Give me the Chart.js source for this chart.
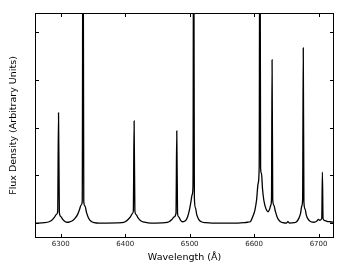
<!DOCTYPE html>
<html>
<head>
<meta charset="utf-8">
<script src="https://cdn.jsdelivr.net/npm/chart.js@4"></script>
<style>
  body { margin: 0; background: #fff; }
  canvas { display: block; }
</style>
</head>
<body>
<canvas id="specChart" width="352" height="264"></canvas>
<script>
// spectrum (wavelength in Å, flux in arbitrary units)
const wavelength = [
  6260, 6275, 6282, 6286, 6290, 6293, 6295.2, 6296.5, 6297.8, 6300, 6303, 6307, 6310,
  6314, 6318, 6322, 6326, 6329, 6331.5, 6333.3, 6334.5, 6335.7, 6337.5, 6340, 6343, 6347, 6352, 6360,
  6395, 6400, 6404, 6408, 6411, 6412.6, 6413.8, 6415, 6417, 6420, 6424, 6430, 6440,
  6462, 6468, 6472, 6476, 6478.8, 6480, 6481.2, 6483, 6486, 6489, 6492, 6494, 6497, 6500,
  6502, 6504, 6505.2, 6506.2, 6507.3, 6509, 6511, 6514, 6518, 6525, 6535,
  6575, 6585, 6590, 6594, 6598.6, 6601.2, 6603.8, 6606.3, 6607.9, 6609, 6610.1, 6611.5, 6613,
  6615.1, 6618.2, 6621.7, 6624, 6626, 6627, 6627.9, 6628.9, 6630.5, 6633, 6636, 6640, 6645,
  6650, 6652.5, 6655, 6662,
  6666, 6669, 6672, 6674, 6675.3, 6676.3, 6677.3, 6679, 6681, 6684, 6688, 6693, 6697, 6700,
  6702, 6705, 6706, 6707, 6709, 6713, 6718, 6724
];
const flux = [
  0.00, 0.01, 0.03, 0.06, 0.12, 0.18, 0.24, 2.31, 0.22, 0.14, 0.08, 0.03, 0.02,
  0.03, 0.05, 0.10, 0.18, 0.28, 0.38, 0.45, 8.00, 0.45, 0.36, 0.22, 0.11, 0.04, 0.01, 0.00,
  0.01, 0.03, 0.07, 0.13, 0.20, 0.26, 2.14, 0.25, 0.18, 0.11, 0.05, 0.02, 0.00,
  0.01, 0.03, 0.07, 0.13, 0.21, 1.93, 0.20, 0.13, 0.06, 0.03, 0.04, 0.06, 0.14, 0.30,
  0.45, 0.60, 0.80, 8.00, 0.55, 0.32, 0.18, 0.08, 0.03, 0.01, 0.00,
  0.00, 0.01, 0.02, 0.03, 0.16, 0.27, 0.48, 0.83, 1.18, 8.00, 1.15, 1.04, 0.73,
  0.48, 0.31, 0.24, 0.29, 0.38, 0.50, 3.42, 0.50, 0.38, 0.25, 0.12, 0.04, 0.01,
  0.00, 0.03, 0.00, 0.01,
  0.03, 0.09, 0.20, 0.36, 0.50, 3.67, 0.45, 0.30, 0.17, 0.08, 0.03, 0.02, 0.04, 0.08,
  0.06, 0.10, 1.07, 0.10, 0.06, 0.04, 0.03, 0.02
];
const xTicks = [6300, 6400, 6500, 6600, 6700];
const yTicks = [0, 1, 2, 3, 4];
const xLabel = 'Wavelength (Å)';
const yLabel = 'Flux Density (Arbitrary Units)';

const font = 'DejaVu Sans';

// frame and inward ticks on all four sides, like the old matplotlib look
const frame = {
  id: 'frame',
  afterDatasetsDraw(chart) {
    const {ctx, chartArea: a, scales} = chart;
    const len = 4;
    ctx.save();
    ctx.strokeStyle = '#000';
    ctx.lineWidth = 1;
    ctx.strokeRect(a.left + 0.5, a.top + 0.5, a.right - a.left - 1, a.bottom - a.top - 1);
    ctx.beginPath();
    xTicks.forEach(v => {
      const px = Math.round(scales.x.getPixelForValue(v)) + 0.5;
      ctx.moveTo(px, a.bottom); ctx.lineTo(px, a.bottom - len);
      ctx.moveTo(px, a.top); ctx.lineTo(px, a.top + len);
    });
    yTicks.forEach(v => {
      const py = Math.round(scales.y.getPixelForValue(v)) + 0.5;
      ctx.moveTo(a.left, py); ctx.lineTo(a.left + len, py);
      ctx.moveTo(a.right, py); ctx.lineTo(a.right - len, py);
    });
    ctx.stroke();
    ctx.restore();
  }
};

new Chart(document.getElementById('specChart'), {
  type: 'line',
  data: {
    datasets: [{
      data: wavelength.map((w, i) => ({x: w, y: flux[i]})),
      borderColor: '#000',
      borderWidth: 1.3,
      pointRadius: 0,
      cubicInterpolationMode: 'monotone'
    }]
  },
  options: {
    responsive: false,
    animation: false,
    devicePixelRatio: 1,
    layout: { padding: { top: 13, right: 18, left: 0, bottom: 0 } },
    plugins: { legend: { display: false }, tooltip: { enabled: false } },
    scales: {
      x: {
        type: 'linear',
        min: 6260,
        max: 6724,
        afterBuildTicks: s => { s.ticks = xTicks.map(v => ({value: v})); },
        afterFit: s => { s.height = 26; },
        grid: { display: false, drawTicks: false },
        border: { display: false },
        ticks: {
          padding: 2,
          maxRotation: 0,
          color: '#222',
          font: { family: font, size: 7 },
          callback: v => String(v)
        },
        title: {
          display: true,
          text: xLabel,
          color: '#000',
          font: { family: font, size: 9.5 },
          padding: { top: 0, bottom: 1 }
        }
      },
      y: {
        min: -0.31,
        max: 4.4,
        afterBuildTicks: s => { s.ticks = yTicks.map(v => ({value: v})); },
        afterFit: s => { s.width = 35; },
        grid: { display: false, drawTicks: false },
        border: { display: false },
        ticks: { display: false },
        title: {
          display: true,
          text: yLabel,
          color: '#000',
          font: { family: font, size: 9.5 },
          padding: { top: 8, bottom: 0 }
        }
      }
    }
  },
  plugins: [frame]
});
</script>
</body>
</html>
